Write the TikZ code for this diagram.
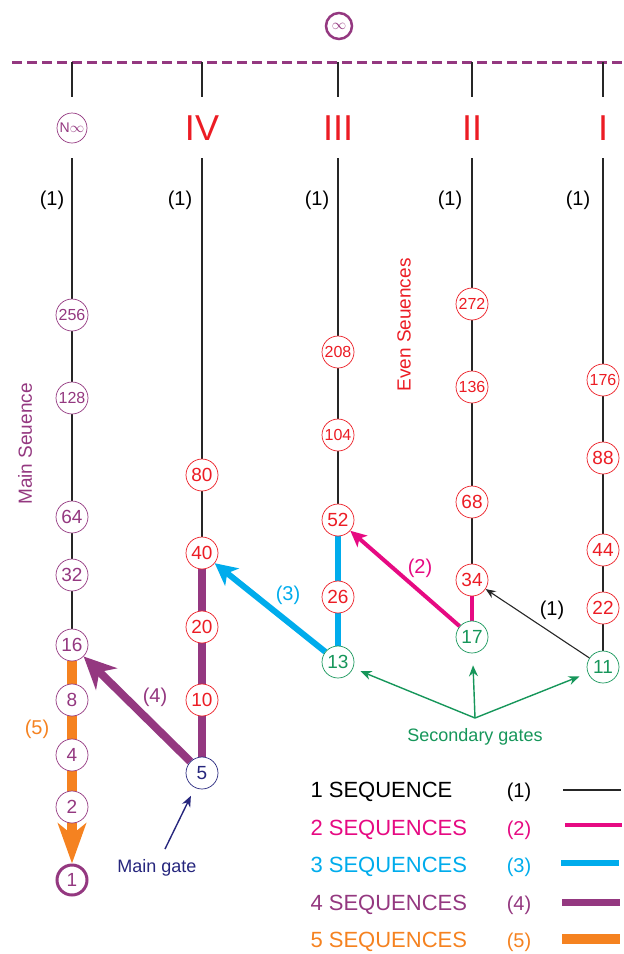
\documentclass[tikz,border=0pt]{standalone}
\usepackage{fontspec}
\setmainfont{Liberation Sans}
\usepackage{tikz}
\usetikzlibrary{
  arrows.meta,
  backgrounds
}
\definecolor{seqred}{RGB}{236, 28, 36}
\definecolor{seqpurple}{RGB}{148, 56, 128}
\definecolor{seqmagenta}{RGB}{230, 10, 130}
\definecolor{seqcyan}{RGB}{0, 172, 236}
\definecolor{seqorange}{RGB}{245, 130, 32}
\definecolor{gategreen}{RGB}{22, 150, 90}
\definecolor{gatenavy}{RGB}{38, 38, 125}
\tikzset{
  num/.style = {
    circle, draw=#1, text=#1, fill=white, line width=0.7pt,
    minimum size=32pt, inner sep=0pt, font=\fontsize{19}{19}\selectfont
  },
  num/.default = seqred,
  wnum/.style = {num=#1, font=\fontsize{16}{16}\selectfont},
  wnum/.default = seqred,
  roman/.style = {text=seqred, font=\fontsize{36}{36}\selectfont},
  cnt/.style = {text=#1, font=\fontsize{20}{20}\selectfont},
  cnt/.default = black,
  gatelbl/.style = {text=#1, font=\fontsize{18}{18}\selectfont},
  legtxt/.style = {anchor=west, text=#1, font=\fontsize{22}{22}\selectfont},
  vlbl/.style = {rotate=90, text=#1, font=\fontsize{19}{19}\selectfont},
  seqa/.style = {draw=black!85, line width=1.1pt},
  seqb/.style = {draw=seqmagenta, line width=4pt},
  seqc/.style = {draw=seqcyan, line width=6pt},
  seqd/.style = {draw=seqpurple, line width=8pt},
  seqe/.style = {draw=seqorange, line width=9.5pt},
  gatearr/.style = {-{Stealth[length=11pt, width=9pt]}, draw=#1,
    line width=1.4pt},
}

\begin{document}
\begin{tikzpicture}[x=1pt, y=-1pt]
  \useasboundingbox (0,0) rectangle (624,954);

  % infinity on top of the dashed bar
  \node[num=seqpurple, minimum size=26pt, line width=2.5pt,
        font=\fontsize{15}{15}\selectfont] (ninf) at (339,26) {$\infty$};
  \draw[seqpurple, line width=3pt, dash pattern=on 10pt off 5pt]
    (12,62) -- (624,62);

  % column stubs
  \foreach \c/\x in {A/72, B/202, C/338, D/472, E/603} {
    \coordinate (bar\c) at (\x,62);
    \coordinate (stub\c) at (\x,97);
    \coordinate (top\c) at (\x,158);
    \draw[seqa] (bar\c) -- (stub\c);
  }

  % column heads
  \node[num=seqpurple, minimum size=30pt,
        font=\fontsize{14}{14}\selectfont] (nNinf) at (72,128) {N$\infty$};
  \node[roman] (rIV)  at (202,128) {IV};
  \node[roman] (rIII) at (338,128) {III};
  \node[roman] (rII)  at (472,128) {II};
  \node[roman] (rI)   at (603,128) {I};
  \foreach \x [count=\i] in {52, 180, 317, 450, 578}
    \node[cnt] (one\i) at (\x,200) {(1)};

  % main sequence (powers of two)
  \node[wnum=seqpurple] (n256) at (72,315) {256};
  \node[wnum=seqpurple] (n128) at (72,398) {128};
  \node[num=seqpurple]  (n64)  at (72,517) {64};
  \node[num=seqpurple]  (n32)  at (72,575) {32};
  \node[num=seqpurple]  (n16)  at (72,645) {16};
  \node[num=seqpurple]  (n8)   at (72,700) {8};
  \node[num=seqpurple]  (n4)   at (72,755) {4};
  \node[num=seqpurple]  (n2)   at (72,807) {2};
  \node[num=seqpurple, line width=3pt, minimum size=30pt] (n1) at (72,880) {1};

  % column IV
  \node[num] (n80) at (202,475) {80};
  \node[num] (n40) at (202,553) {40};
  \node[num] (n20) at (202,627) {20};
  \node[num] (n10) at (202,700) {10};
  \node[num=gatenavy] (n5) at (202,773) {5};

  % column III
  \node[wnum] (n208) at (338,352) {208};
  \node[wnum] (n104) at (338,435) {104};
  \node[num]  (n52)  at (338,520) {52};
  \node[num]  (n26)  at (338,597) {26};
  \node[num=gategreen] (n13) at (338,662) {13};

  % column II
  \node[wnum] (n272) at (472,304) {272};
  \node[wnum] (n136) at (472,387) {136};
  \node[num]  (n68)  at (472,502) {68};
  \node[num]  (n34)  at (472,580) {34};
  \node[num=gategreen] (n17) at (472,637) {17};

  % column I
  \node[wnum] (n176) at (603,380) {176};
  \node[num]  (n88)  at (603,458) {88};
  \node[num]  (n44)  at (603,550) {44};
  \node[num]  (n22)  at (603,608) {22};
  \node[num=gategreen] (n11) at (603,667) {11};

  % side titles
  \node[vlbl=seqpurple] (mainseq) at (25,444) {Main Seuence};
  \node[vlbl=seqred]    (evenseq) at (404,325) {Even Seuences};

  % edge counts
  \node[cnt]            (c1) at (552,610) {(1)};
  \node[cnt=seqmagenta] (c2) at (420,568) {(2)};
  \node[cnt=seqcyan]    (c3) at (288,595) {(3)};
  \node[cnt=seqpurple]  (c4) at (155,697) {(4)};
  \node[cnt=seqorange]  (c5) at (37,729)  {(5)};

  % gates
  \node[gatelbl=gatenavy]  (mgate) at (157,868) {Main gate};
  \node[gatelbl=gategreen] (sgate) at (475,737) {Secondary gates};
  \coordinate (mgtail) at (165,849);
  \coordinate (sgroot) at (475,718);

  % legend
  \node[legtxt=black]      (l1) at (307,792) {1 SEQUENCE};
  \node[legtxt=seqmagenta] (l2) at (307,830) {2 SEQUENCES};
  \node[legtxt=seqcyan]    (l3) at (307,867) {3 SEQUENCES};
  \node[legtxt=seqpurple]  (l4) at (307,905) {4 SEQUENCES};
  \node[legtxt=seqorange]  (l5) at (307,942) {5 SEQUENCES};
  \node[cnt]            (k1) at (519,792) {(1)};
  \node[cnt=seqmagenta] (k2) at (519,830) {(2)};
  \node[cnt=seqcyan]    (k3) at (519,867) {(3)};
  \node[cnt=seqpurple]  (k4) at (519,905) {(4)};
  \node[cnt=seqorange]  (k5) at (519,942) {(5)};
  \draw[seqa, line width=1.6pt] (563,790) -- (621,790);
  \draw[seqb, line width=3.5pt] (565,825) -- (622,825);
  \draw[seqc] (561,863) -- (619,863);
  \draw[seqd, line width=7pt] (562,902) -- (620,902);
  \draw[seqe] (562,939) -- (620,939);

  %% Connectors
  \begin{scope}[on background layer]
    \draw[seqa] (topA) -- (n256) -- (n128) -- (n64) -- (n32) -- (n16);
    \draw[seqa] (topB) -- (n80) -- (n40);
    \draw[seqa] (topC) -- (n208) -- (n104) -- (n52);
    \draw[seqa] (topD) -- (n272) -- (n136) -- (n68) -- (n34);
    \draw[seqa] (topE) -- (n176) -- (n88) -- (n44) -- (n22) -- (n11);

    \draw[seqe, -{Stealth[length=40pt, width=28pt, inset=11pt]}]
      (n16) -- (n1);
    \draw[seqd] (n5) -- (n40);
    \draw[seqc] (n13) -- (n52);
    \draw[seqb] (n17) -- (n34);

    \draw[seqa, -{Stealth[length=10pt, width=8pt]}] (n11) -- (n34);
    \draw[seqb, -{Stealth[length=16pt, width=15pt, inset=4pt]}]
      (n17) -- (n52);
    \draw[seqc, -{Stealth[length=22pt, width=22pt, inset=6pt]}]
      (n13) -- (n40);
    \draw[seqd, -{Stealth[length=32pt, width=30pt, inset=10pt]}]
      (n5) -- (n16);
  \end{scope}

  \draw[gatearr=gatenavy] (mgtail) -- (n5) [shorten >=9pt];
  \draw[gatearr=gategreen, shorten >=8pt] (sgroot) -- (n13);
  \draw[gatearr=gategreen, shorten >=12pt] (sgroot) -- (n17);
  \draw[gatearr=gategreen, shorten >=9pt] (sgroot) -- (n11);

\end{tikzpicture}
\end{document}
